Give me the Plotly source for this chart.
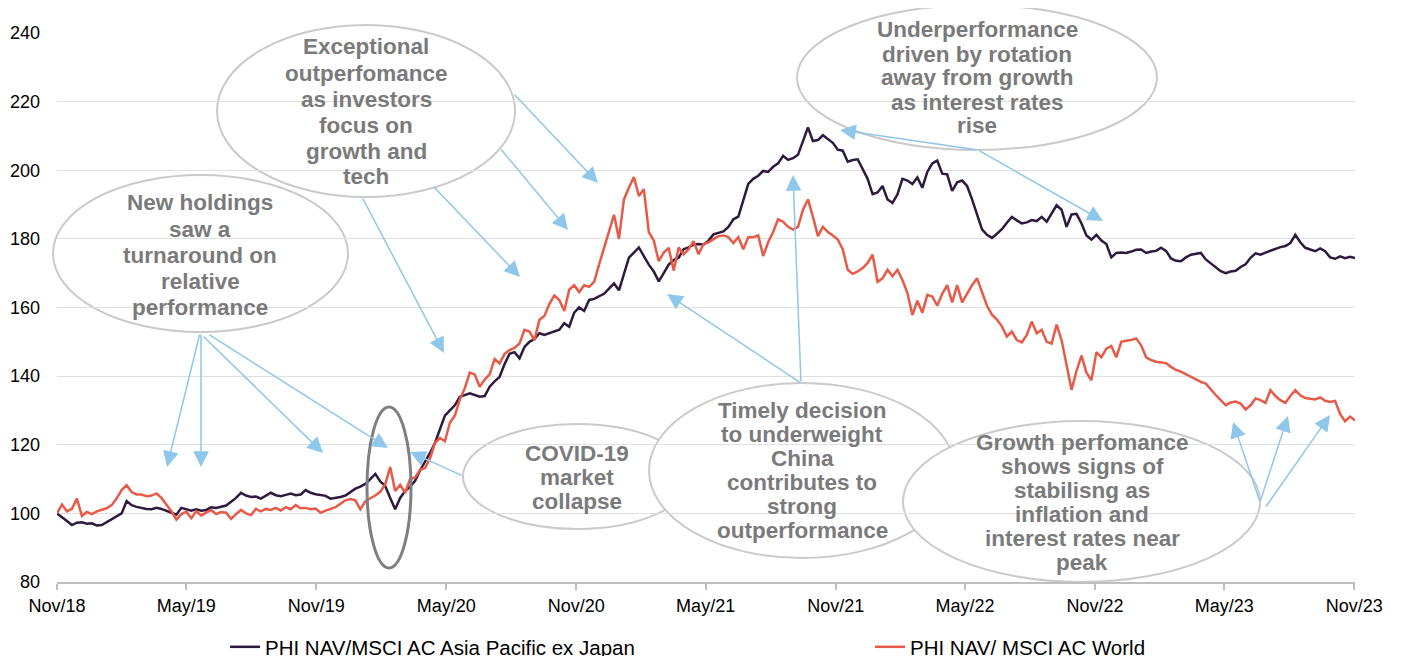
import pandas as pd
import plotly.graph_objects as go

# ---------------- data ----------------
start_date = "2018-11-30"

series_names = ["PHI NAV/MSCI AC Asia Pacific ex Japan", "PHI NAV/ MSCI AC World"]

apac_ratio = [
    100.0, 99.0, 97.8, 96.6, 97.3, 97.4, 97.0, 97.1, 96.5, 96.6,
    97.4, 98.3, 99.0, 100.0, 103.6, 102.4, 101.9, 101.5, 101.3, 101.2,
    101.6, 101.3, 100.8, 100.3, 99.6, 101.6, 101.2, 100.8, 101.2, 100.8,
    101.0, 101.8, 101.6, 102.0, 102.3, 103.4, 104.5, 106.0, 105.2, 104.8,
    104.9, 104.3, 105.2, 106.0, 105.3, 105.0, 105.4, 105.8, 105.3, 105.5,
    106.8, 106.0, 105.6, 105.4, 105.1, 104.3, 104.5, 104.8, 105.2, 106.3,
    107.2, 107.8, 108.6, 110.0, 111.5, 109.3, 108.0, 104.5, 101.2, 104.5,
    106.5, 107.8, 109.5, 112.5, 115.0, 117.6, 120.5, 124.5, 128.5, 130.0,
    131.5, 134.0, 134.5, 135.0, 134.5, 134.0, 134.2, 136.9, 138.5, 139.8,
    143.5, 146.5, 147.0, 145.2, 148.5, 150.0, 150.8, 152.5, 152.0, 152.5,
    153.0, 153.5, 155.4, 154.4, 158.5, 160.0, 159.0, 162.2, 162.5, 163.2,
    164.0, 165.5, 167.0, 165.0, 170.0, 174.5, 176.0, 177.5, 175.0, 172.5,
    170.5, 167.6, 170.0, 172.5, 173.8, 174.5, 177.0, 177.5, 178.3, 178.5,
    178.3, 179.5, 181.3, 181.8, 182.2, 183.5, 185.7, 186.5, 191.5, 196.0,
    197.5, 198.4, 199.8, 199.5, 201.0, 202.0, 204.2, 203.0, 203.5, 204.5,
    208.5, 212.5, 208.5, 208.8, 210.2, 209.2, 208.0, 206.0, 205.7, 202.5,
    203.0, 203.2, 200.5, 197.5, 193.0, 193.5, 195.4, 191.5, 190.5, 193.0,
    197.5, 197.0, 196.0, 197.9, 194.9, 199.5, 202.0, 202.8, 199.0, 198.8,
    194.0, 196.5, 197.0, 195.4, 191.5, 187.0, 182.8, 181.2, 180.3, 181.5,
    182.8, 184.7, 186.4, 185.4, 184.5, 184.8, 185.5, 185.2, 186.4, 185.0,
    187.5, 189.8, 188.5, 183.5, 187.1, 187.3, 184.5, 181.0, 179.8, 181.2,
    179.5, 178.5, 174.6, 175.9, 176.0, 175.9, 176.3, 176.8, 176.9, 175.9,
    176.3, 176.5, 177.4, 176.5, 174.3, 173.6, 173.5, 174.6, 175.4, 175.7,
    175.9, 174.0, 172.9, 171.6, 170.6, 170.0, 170.5, 170.7, 171.8, 172.6,
    174.5, 175.8, 175.4, 176.0, 176.6, 177.2, 177.6, 177.9, 178.8, 181.2,
    179.0, 177.4, 176.9, 176.4, 177.2, 176.4, 174.6, 174.2, 174.9, 174.4, 174.8, 174.4,
]

world_ratio = [
    100.0, 102.6, 100.6, 101.3, 104.3, 99.3, 100.4, 99.8, 100.6, 101.0,
    101.5, 102.4, 104.4, 106.8, 108.2, 106.2, 105.5, 105.5, 105.0, 105.2,
    105.8, 104.5, 102.5, 100.6, 98.2, 99.8, 100.5, 98.6, 100.6, 99.4,
    100.2, 101.0, 99.8, 100.4, 100.2, 98.4, 99.8, 101.0, 100.0, 99.5,
    101.3, 100.6, 101.3, 101.0, 101.6, 100.8, 101.8, 101.2, 102.4, 101.5,
    101.6, 101.2, 101.4, 100.2, 100.8, 101.2, 101.8, 102.8, 103.8, 104.2,
    103.8, 101.2, 103.5, 104.4, 105.2, 106.3, 108.5, 113.5, 106.5, 108.3,
    106.0, 110.0, 110.5, 112.7, 113.2, 116.0, 120.5, 122.0, 121.0, 126.4,
    128.5, 133.2, 136.5, 141.0, 140.5, 136.9, 139.0, 140.5, 145.0, 143.7,
    146.5, 147.6, 148.2, 149.5, 153.5, 153.0, 150.5, 156.4, 157.5, 161.0,
    163.5, 162.2, 159.0, 165.2, 166.5, 164.5, 166.5, 166.0, 167.5, 172.5,
    177.5, 182.0, 187.0, 180.0, 191.5, 195.0, 198.0, 192.5, 194.5, 182.0,
    179.5, 173.5, 176.0, 177.4, 170.8, 177.5, 175.5, 177.0, 179.3, 175.5,
    178.5, 179.0, 179.8, 180.8, 181.0, 180.5, 178.8, 180.5, 177.0, 180.5,
    180.5, 181.0, 175.0, 179.0, 182.0, 185.7, 185.0, 183.5, 182.7, 183.5,
    188.5, 191.5, 186.5, 180.8, 183.5, 182.0, 181.0, 179.8, 176.9, 171.0,
    169.8, 170.5, 171.5, 173.0, 175.4, 167.5, 168.5, 171.0, 169.1, 171.0,
    168.0, 164.2, 157.8, 162.0, 158.5, 163.7, 163.2, 160.5, 164.0, 166.5,
    161.5, 166.5, 161.5, 164.0, 166.5, 168.5, 164.5, 160.5, 157.9, 156.5,
    154.5, 151.5, 153.0, 150.5, 149.8, 152.0, 155.9, 152.5, 153.5, 150.0,
    149.5, 155.0, 150.5, 143.7, 136.0, 141.5, 146.0, 141.0, 138.8, 147.0,
    145.5, 148.0, 148.8, 145.5, 150.0, 150.3, 150.5, 151.0, 149.0, 145.5,
    144.7, 144.2, 144.0, 143.8, 142.7, 141.8, 141.3, 140.5, 139.8, 139.0,
    138.3, 137.8, 136.0, 134.5, 133.0, 131.5, 132.3, 132.6, 132.0, 130.3,
    131.5, 133.5, 133.0, 132.2, 135.9, 134.2, 133.0, 132.2, 134.2, 135.9,
    134.4, 133.6, 133.4, 133.2, 133.8, 132.8, 132.5, 132.8, 129.0, 126.8, 128.2, 127.1,
]

tick_labels = ["Nov/18", "May/19", "Nov/19", "May/20", "Nov/20", "May/21",
               "Nov/21", "May/22", "Nov/22", "May/23", "Nov/23"]
y_ticks = [80, 100, 120, 140, 160, 180, 200, 220, 240]

dates = pd.date_range(start_date, periods=len(apac_ratio), freq="7D")
tick_dates = pd.to_datetime(tick_labels, format="%b/%y") + pd.offsets.MonthEnd(0)

# ---------------- styling / layout helpers ----------------
W, H = 1402, 656
PAGE_OFF = 8                      # default page margin of the browser
PL, PR, PT, PB = 57, 1355, 33, 582  # plot-area edges as seen on screen
ML, MT = PL - PAGE_OFF, PT - PAGE_OFF
MR, MB = W - (PR - PAGE_OFF), H - (PB - PAGE_OFF)
PW, PH = PR - PL, PB - PT

def px(x):
    return (x - PL) / PW

def py(y):
    return (PB - y) / PH

DARK = "#2E1A3E"
RED = "#E85A48"
ARROW = "#8EC7EA"
ELL = "#CACACA"
TXT = "#7A7A7A"
FONT = "Liberation Sans, Arial, sans-serif"

fig = go.Figure()
fig.add_trace(go.Scatter(x=dates, y=apac_ratio, mode="lines", name=series_names[0],
                         line=dict(color=DARK, width=2.5), legend="legend"))
fig.add_trace(go.Scatter(x=dates, y=world_ratio, mode="lines", name=series_names[1],
                         line=dict(color=RED, width=2.5), legend="legend2"))

# callout ellipses (screen pixel boxes)
ellipses = [
    (53, 175, 348, 332),     # New holdings
    (217, 25, 515, 197),     # Exceptional
    (797, 5, 1157, 150),     # Underperformance
    (463, 424, 691, 529),    # COVID
    (649, 383, 955, 558),    # Timely
    (903, 421, 1260, 582),   # Growth
]
shapes = []
for x0, y0, x1, y1 in ellipses:
    shapes.append(dict(type="circle", xref="paper", yref="paper",
                       x0=px(x0), x1=px(x1), y0=py(y1), y1=py(y0),
                       line=dict(color=ELL, width=2), fillcolor="white", layer="between"))
# dark ring around covid dip
shapes.append(dict(type="circle", xref="paper", yref="paper",
                   x0=px(367), x1=px(411), y0=py(568), y1=py(407),
                   line=dict(color="#7F7F7F", width=3), fillcolor="rgba(0,0,0,0)", layer="above"))

callouts = [
    (366, ["Exceptional", "outperfomance", "as investors", "focus on", "growth and", "tech"],
     [47, 73, 99, 125, 151, 177]),
    (200, ["New holdings", "saw a", "turnaround on", "relative", "performance"],
     [202, 229, 255, 281, 307]),
    (977, ["Underperformance", "driven by rotation", "away from growth", "as interest rates", "rise"],
     [30, 54, 78, 102, 126]),
    (577, ["COVID-19", "market", "collapse"], [453, 477, 501]),
    (802, ["Timely decision", "to underweight", "China", "contributes to", "strong", "outperformance"],
     [410, 434, 458, 482, 506, 530]),
    (1082, ["Growth perfomance", "shows signs of", "stabilisng as", "inflation and",
            "interest rates near", "peak"], [442, 466, 490, 514, 538, 562]),
]
annotations = []
for cx, lines, ys in callouts:
    for t, yy in zip(lines, ys):
        annotations.append(dict(x=px(cx), y=py(yy), xref="paper", yref="paper",
                                text="<b>%s</b>" % t, showarrow=False,
                                xanchor="center", yanchor="middle",
                                font=dict(family=FONT, size=22.5, color=TXT)))

arrows = [  # tail x, tail y, head x, head y (screen pixels)
    (200, 333, 167, 467), (201, 333, 201, 467), (202, 335, 323, 453), (208, 334, 388, 448),
    (362, 197, 444, 353), (433, 186, 520, 277), (500, 148, 568, 230), (513, 93, 598, 183),
    (463, 476, 410, 452),
    (801, 383, 667, 294), (801, 383, 793, 175),
    (978, 150, 840, 130), (978, 150, 1103, 221),
    (1260, 502, 1233, 422), (1260, 502, 1288, 416), (1265, 508, 1330, 415),
]
for tx, ty, hx, hy in arrows:
    annotations.append(dict(x=px(hx), y=py(hy), xref="paper", yref="paper",
                            ax=tx - hx, ay=ty - hy, axref="pixel", ayref="pixel",
                            text="", showarrow=True, arrowhead=2, arrowsize=2.1,
                            arrowwidth=1.5, arrowcolor=ARROW, standoff=0))

legend_style = dict(orientation="h", xanchor="left", yanchor="middle", y=py(647),
                    font=dict(family=FONT, size=20.5, color="#000000"),
                    bgcolor="rgba(0,0,0,0)", borderwidth=0)

fig.update_layout(
    width=W, height=H,
    margin=dict(l=ML, r=MR, t=MT, b=MB, pad=0, autoexpand=False),
    paper_bgcolor="white", plot_bgcolor="white",
    font=dict(family=FONT, color="#000000"),
    shapes=shapes, annotations=annotations,
    showlegend=True,
    legend=dict(x=px(225), **legend_style),
    legend2=dict(x=px(870), **legend_style),
)
fig.update_xaxes(type="date", range=[dates[0], dates[-1]],
                 tickmode="array", tickvals=tick_dates, ticktext=tick_labels,
                 showgrid=False, showline=True, linecolor="#BFBFBF", linewidth=1.5,
                 ticks="outside", ticklen=6, tickcolor="#BFBFBF", tickwidth=1.5,
                 tickfont=dict(family=FONT, size=18, color="#000000"), ticklabelstandoff=1,
                 zeroline=False, automargin=False)
fig.update_yaxes(range=[80, 240], tickmode="array", tickvals=y_ticks,
                 showgrid=True, gridcolor="#E0E0E0", gridwidth=1,
                 showline=False, ticks="", zeroline=False, automargin=False,
                 tickfont=dict(family=FONT, size=18, color="#000000"), ticklabelstandoff=16)

fig.write_html("out.html")
